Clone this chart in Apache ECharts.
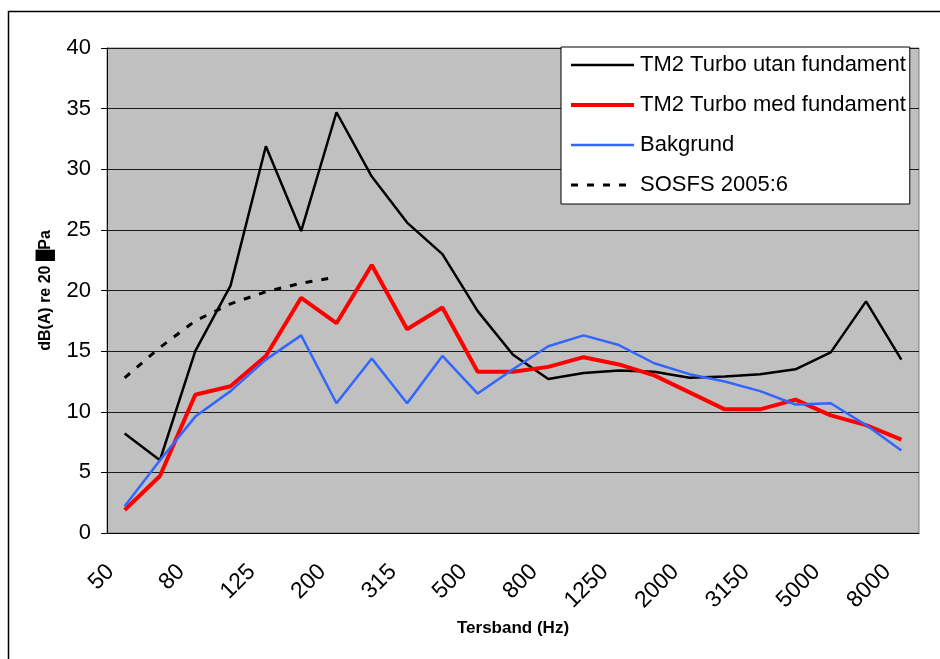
<!DOCTYPE html>
<html>
<head>
<meta charset="utf-8">
<script src="https://cdn.jsdelivr.net/npm/echarts@6/dist/echarts.min.js"></script>
<style>
  html, body { margin: 0; padding: 0; background: #fff; }
  #chart { width: 940px; height: 659px; }
</style>
</head>
<body>
<div id="chart"></div>
<script>
// tersband (Hz)
const bands = ['50', '63', '80', '100', '125', '160', '200', '250', '315', '400', '500', '630',
  '800', '1000', '1250', '1600', '2000', '2500', '3150', '4000', '5000', '6300', '8000']

const utanFundament = [8.2, 6.0, 15.0, 20.4, 31.9, 24.9, 34.7, 29.4, 25.6, 23.0, 18.3, 14.7,
  12.7, 13.2, 13.4, 13.3, 12.8, 12.9, 13.1, 13.5, 14.9, 19.1, 14.3]
const medFundament = [1.9, 4.7, 11.4, 12.1, 14.6, 19.4, 17.3, 22.1, 16.8, 18.6, 13.3, 13.3,
  13.7, 14.5, 13.9, 13.0, 11.6, 10.2, 10.2, 11.0, 9.7, 8.9, 7.7]
const bakgrund = [2.2, 6.0, 9.6, 11.7, 14.3, 16.3, 10.7, 14.4, 10.7, 14.6, 11.5, 13.5,
  15.4, 16.3, 15.5, 14.0, 13.1, 12.5, 11.7, 10.6, 10.7, 8.9, 6.8]
// riktvärden, bara 50-200 Hz
const sosfs = [12.8, 15.3, 17.5, 18.9, 19.9, 20.6, 21.1]

const seriesNames = ['TM2 Turbo utan fundament', 'TM2 Turbo med fundament', 'Bakgrund', 'SOSFS 2005:6']

const font = "'Liberation Sans', Arial, sans-serif"

const myChart = echarts.init(document.getElementById('chart'))
myChart.setOption({
  animation: false,
  backgroundColor: '#fff',
  textStyle: { fontFamily: font },
  // ram runt hela diagrammet
  graphic: [{
    type: 'rect',
    shape: { x: 8.5, y: 11.5, width: 1000, height: 1000 },
    style: { fill: 'none', stroke: '#000', lineWidth: 1.5 },
    silent: true
  }],
  grid: {
    left: 107, right: 21, top: 48, bottom: 126,
    show: true,
    backgroundColor: '#c0c0c0',
    borderColor: '#808080',
    borderWidth: 1
  },
  legend: {
    orient: 'vertical',
    left: 561, top: 47,
    padding: [7, 4, 8, 8],
    itemGap: 18,
    itemWidth: 63,
    itemHeight: 14,
    backgroundColor: '#fff',
    borderColor: '#000',
    borderWidth: 1,
    borderRadius: 0,
    // bara linjen i förklaringen, ingen punkt
    itemStyle: { opacity: 0 },
    textStyle: { fontSize: 22, color: '#000', fontFamily: font, padding: [0, 0, 0, 1] },
    data: [
      { name: seriesNames[0], lineStyle: { width: 2.5, color: '#000' } },
      { name: seriesNames[1], lineStyle: { width: 4, color: '#ff0000' } },
      { name: seriesNames[2], lineStyle: { width: 2.5, color: '#3366ff' } },
      { name: seriesNames[3], lineStyle: { width: 3, color: '#000', type: [7, 9] } }
    ]
  },
  xAxis: {
    type: 'category',
    data: bands,
    boundaryGap: true,
    name: 'Tersband (Hz)',
    nameLocation: 'middle',
    nameGap: 86,
    nameTextStyle: { fontSize: 17, fontWeight: 'bold', color: '#000', fontFamily: font },
    axisLine: { lineStyle: { color: '#000', width: 1 } },
    axisTick: { interval: 0, length: 6, lineStyle: { color: '#000' } },
    axisLabel: {
      interval: 1,
      rotate: 45,
      margin: 21,
      padding: [0, 20, 0, 0],
      fontSize: 23,
      color: '#000',
      fontFamily: font
    },
    splitLine: { show: false }
  },
  yAxis: {
    type: 'value',
    min: 0,
    max: 40,
    interval: 5,
    name: 'dB(A) re 20 \u2588Pa',
    nameLocation: 'middle',
    nameGap: 53,
    nameTextStyle: { fontSize: 16, fontWeight: 'bold', color: '#000', fontFamily: font },
    axisLine: { show: true, lineStyle: { color: '#000', width: 1 } },
    axisTick: { show: true, length: 6, lineStyle: { color: '#000' } },
    axisLabel: { fontSize: 22, color: '#000', margin: 16, fontFamily: font },
    splitLine: { lineStyle: { color: '#1a1a1a', width: 1 } }
  },
  series: [
    {
      name: seriesNames[0],
      type: 'line',
      symbol: 'none',
      data: utanFundament,
      itemStyle: { color: '#000' },
      lineStyle: { color: '#000', width: 2.5 }
    },
    {
      name: seriesNames[1],
      type: 'line',
      symbol: 'none',
      data: medFundament,
      itemStyle: { color: '#ff0000' },
      lineStyle: { color: '#ff0000', width: 4 }
    },
    {
      name: seriesNames[2],
      type: 'line',
      symbol: 'none',
      data: bakgrund,
      itemStyle: { color: '#3366ff' },
      lineStyle: { color: '#3366ff', width: 2.5 }
    },
    {
      name: seriesNames[3],
      type: 'line',
      symbol: 'none',
      data: sosfs,
      itemStyle: { color: '#000' },
      lineStyle: { color: '#000', width: 3, type: [7, 9] }
    }
  ]
})
</script>
</body>
</html>
